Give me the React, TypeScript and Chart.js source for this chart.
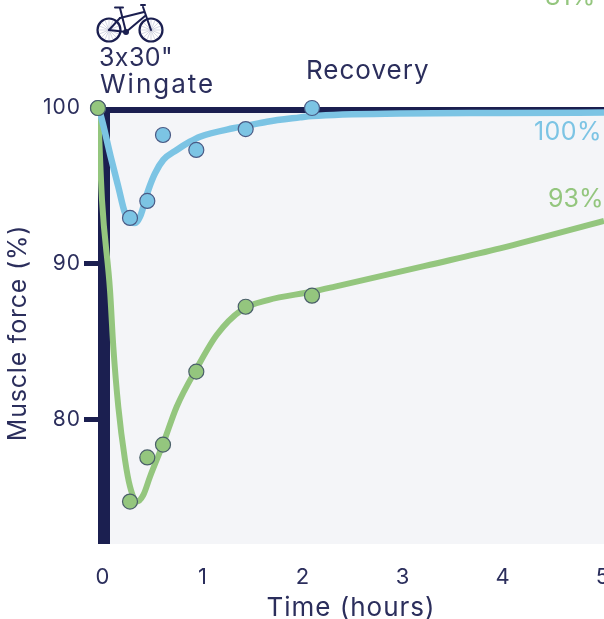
import React, { useEffect, useRef } from "react";
import { Chart, registerables } from "chart.js";

Chart.register(...registerables);

const NAVY = "#1B1F50";
const TEXT = "#2B2E5C";
const BLUE = "#7CC4E4";
const GREEN = "#94C67E";
const PANEL = "#F4F5F8";
const FONT = "Inter";

const blueCurveT = [0, 0.02, 0.127, 0.203, 0.27, 0.37, 0.42, 0.503, 0.57, 0.653, 0.787, 0.92, 1.02, 1.35, 1.48, 1.69, 2.02, 2.14, 3.02, 4.02, 5.06];
const blueCurveV = [100, 99.68, 96.88, 94.95, 93.27, 92.63, 93.03, 94.74, 95.81, 96.67, 97.31, 97.84, 98.16, 98.7, 98.85, 99.12, 99.4, 99.49, 99.65, 99.68, 99.71];
const greenCurveT = [0, 0.04, 0.12, 0.153, 0.203, 0.27, 0.32, 0.387, 0.453, 0.52, 0.653, 0.787, 0.987, 1.187, 1.437, 1.7, 2.137, 2.37, 3.32, 4.02, 5.06];
const greenCurveV = [100, 94.1, 88.33, 84.7, 80.85, 77.44, 75.73, 74.77, 75.19, 76.36, 78.51, 80.85, 83.31, 85.45, 87.05, 87.69, 88.22, 88.55, 89.95, 91.0, 92.76];
const pointT = [0, 0.32, 0.493, 0.65, 0.983, 1.477, 2.14];
const bluePoints = [100, 92.95, 94.04, 98.27, 97.31, 98.65, 100];
const greenPoints = [100, 74.77, 77.6, 78.42, 83.1, 87.26, 87.97];
const yTickValues = [100, 90, 80];
const xTickValues = [0, 1, 2, 3, 4, 5];

const zip = (t: number[], v: number[]) => t.map((x, i) => ({ x, y: v[i] }));

const drawBike = (c: CanvasRenderingContext2D) => {
  c.save();
  c.lineCap = "round";
  for (const cx of [109, 151]) {
    c.strokeStyle = "#B9BCD0";
    c.lineWidth = 0.6;
    for (let a = 0; a < 16; a++) {
      const r = (a * Math.PI) / 8;
      c.beginPath();
      c.moveTo(cx, 30);
      c.lineTo(cx + Math.cos(r) * 11, 30 + Math.sin(r) * 11);
      c.stroke();
    }
    c.strokeStyle = NAVY;
    c.lineWidth = 2.2;
    c.beginPath();
    c.arc(cx, 30, 11.5, 0, Math.PI * 2);
    c.stroke();
  }
  c.strokeStyle = NAVY;
  c.lineWidth = 2;
  const segs = [
    [126, 32, 120, 8], [120, 18, 144, 12], [126, 32, 145, 16], [143, 7, 151, 30],
    [126, 32, 109, 30], [120, 18, 109, 30], [115, 7.5, 123, 7.5], [141, 5, 145, 5],
  ];
  for (const [a, b, d, e] of segs) {
    c.beginPath();
    c.moveTo(a, b);
    c.lineTo(d, e);
    c.stroke();
  }
  c.fillStyle = NAVY;
  c.beginPath();
  c.arc(126, 32, 3, 0, Math.PI * 2);
  c.fill();
  c.restore();
};

const backdrop = {
  id: "backdrop",
  beforeDraw(chart: any) {
    chart.ctx.letterSpacing = "1px";
  },
  beforeDatasetsDraw(chart: any) {
    const { ctx: c, chartArea: a } = chart;
    c.save();
    c.fillStyle = PANEL;
    c.fillRect(a.left + 12, a.top + 5, a.right - a.left - 12, a.bottom - a.top - 5);
    c.fillStyle = NAVY;
    c.fillRect(a.left, a.top, 12, a.bottom - a.top);
    c.fillRect(a.left, a.top - 1, a.right - a.left, 6);
    c.restore();
  },
};

const notes = {
  id: "notes",
  afterDraw(chart: any) {
    const c = chart.ctx as any;
    c.save();
    c.textBaseline = "alphabetic";
    c.textAlign = "left";
    const put = (s: string, x: number, y: number, col: string, size = 26, gap = 1.5) => {
      c.font = `${size}px ${FONT}`;
      c.letterSpacing = `${gap}px`;
      c.fillStyle = col;
      c.fillText(s, x, y);
    };
    put('3x30"', 99, 66, TEXT, 25, 0.4);
    put("Wingate", 100, 93, TEXT, 26, 2);
    put("Recovery", 306, 79, TEXT, 26, 1);
    put("100%", 534, 140, BLUE, 25, 0.4);
    put("93%", 548, 207, GREEN, 25, 0);
    put("81%", 545, 5, GREEN, 25, 0);
    c.translate(26, 333);
    c.rotate(-Math.PI / 2);
    c.textAlign = "center";
    put("Muscle force (%)", 0, 0, TEXT, 25, 0.8);
    c.restore();
    drawBike(c);
  },
};

export default function App() {
  const ref = useRef<HTMLCanvasElement>(null);
  useEffect(() => {
    const chart = new Chart(ref.current!, {
      type: "line",
      data: {
        datasets: [
          { data: zip(blueCurveT, blueCurveV), borderColor: BLUE, borderWidth: 6.5, pointRadius: 0, cubicInterpolationMode: "monotone", order: 3 },
          { data: zip(greenCurveT, greenCurveV), borderColor: GREEN, borderWidth: 6, pointRadius: 0, cubicInterpolationMode: "monotone", order: 4 },
          { data: zip(pointT, bluePoints), showLine: false, pointRadius: 7.5, pointBackgroundColor: BLUE, pointBorderColor: "#4A5A85", pointBorderWidth: 1.2, clip: false, order: 2 },
          { data: zip(pointT, greenPoints), showLine: false, pointRadius: 7.5, pointBackgroundColor: GREEN, pointBorderColor: "#4A5F6A", pointBorderWidth: 1.2, clip: false, order: 1 },
        ],
      } as any,
      options: {
        responsive: false,
        animation: false,
        layout: { autoPadding: false, padding: { top: 108, right: 0, left: 0, bottom: 0 } },
        plugins: { legend: { display: false }, tooltip: { enabled: false } },
        scales: {
          x: {
            type: "linear",
            min: 0,
            max: 5.06,
            afterBuildTicks: (s: any) => { s.ticks = xTickValues.map((value) => ({ value })); },
            afterFit: (s: any) => { s.height = 75; s.paddingLeft = 0; s.paddingRight = 0; },
            border: { display: false },
            grid: { display: false },
            ticks: { color: TEXT, padding: 12, labelOffset: 5, maxRotation: 0, autoSkip: false, font: { family: FONT, size: 22 } },
            title: { display: true, text: "Time (hours)", color: TEXT, padding: { top: 0, bottom: -5 }, font: { family: FONT, size: 26 } },
          },
          y: {
            type: "linear",
            min: 72.05,
            max: 100,
            afterFit: (s: any) => { s.width = 98; s.paddingTop = 0; s.paddingBottom = 0; },
            afterBuildTicks: (s: any) => { s.ticks = yTickValues.map((value) => ({ value })); },
            border: { display: false },
            grid: {
              drawOnChartArea: false,
              tickLength: 14,
              tickWidth: 5,
              tickColor: (ctx: any) => (ctx.tick && ctx.tick.value === 100 ? "transparent" : NAVY),
            },
            ticks: { color: TEXT, padding: 3, font: { family: FONT, size: 21 } },
          },
        },
      } as any,
      plugins: [backdrop, notes],
    });
    return () => chart.destroy();
  }, []);
  return (
    <div style={{ position: "absolute", left: 0, top: 0, width: 604, height: 619, background: "#fff" }}>
      <canvas ref={ref} width={604} height={619} style={{ display: "block" }} />
    </div>
  );
}
